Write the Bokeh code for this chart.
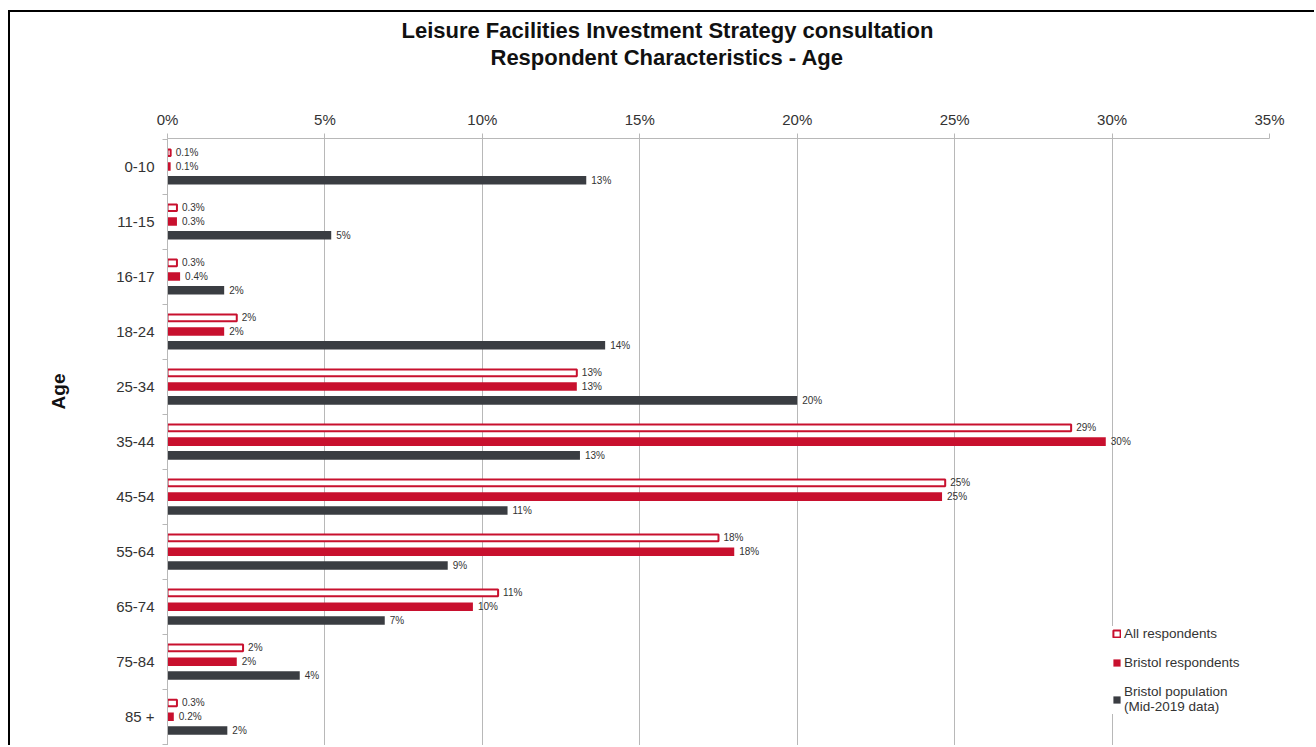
from bokeh.plotting import figure
from bokeh.models import (ColumnDataSource, Range1d, FixedTicker, PrintfTickFormatter,
                          Legend, LegendItem, Title)
from bokeh.embed import file_html
from bokeh.resources import INLINE
from bokeh.core.properties import value

# ---------------- data ----------------
categories = ["0-10", "11-15", "16-17", "18-24", "25-34", "35-44",
              "45-54", "55-64", "65-74", "75-84", "85 +"]
all_respondents = [0.1, 0.3, 0.3, 2.2, 13.0, 28.7, 24.7, 17.5, 10.5, 2.4, 0.3]
bristol_respondents = [0.1, 0.3, 0.4, 1.8, 13.0, 29.8, 24.6, 18.0, 9.7, 2.2, 0.2]
bristol_population = [13.3, 5.2, 1.8, 13.9, 20.0, 13.1, 10.8, 8.9, 6.9, 4.2, 1.9]
all_labels = ["0.1%", "0.3%", "0.3%", "2%", "13%", "29%", "25%", "18%", "11%", "2%", "0.3%"]
bristol_labels = ["0.1%", "0.3%", "0.4%", "2%", "13%", "30%", "25%", "18%", "10%", "2%", "0.2%"]
population_labels = ["13%", "5%", "2%", "14%", "20%", "13%", "11%", "9%", "7%", "4%", "2%"]
x_ticks = [0, 5, 10, 15, 20, 25, 30, 35]
series_names = ["All respondents", "Bristol respondents", "Bristol population\n(Mid-2019 data)"]
title_line1 = "Leisure Facilities Investment Strategy consultation"
title_line2 = "Respondent Characteristics - Age"
y_title = "Age"

# ---------------- style ----------------
FONT = "Liberation Sans"
RED = "#c8102e"
DARK = "#3a3d42"
GRID = "#b8b8b8"
TXT = "#333333"

n = len(categories)
idx = list(range(n))
off = 0.25

src = ColumnDataSource(dict(
    y_all=[i - off for i in idx],
    y_bri=idx,
    y_pop=[i + off for i in idx],
    all=all_respondents, bri=bristol_respondents, pop=bristol_population,
    all_lab=all_labels, bri_lab=bristol_labels, pop_lab=population_labels,
))

p = figure(width=1306, height=735, output_backend="svg", toolbar_location=None,
           x_range=Range1d(0, 35), y_range=Range1d(10.56, -0.51),
           x_axis_location="above",
           min_border_left=157, min_border_right=47, min_border_top=126, min_border_bottom=0)
p.styles = {"border-left": "2px solid #000", "border-top": "2px solid #000",
            "margin-left": "8px", "margin-top": "10px"}
p.title.text = ""
p.outline_line_color = None
p.background_fill_color = "white"
p.border_fill_color = "white"

r_all = p.hbar(y="y_all", right="all", left=0, height=0.12, fill_color="white",
               line_color=RED, line_width=2, source=src)
r_bri = p.hbar(y="y_bri", right="bri", left=0, height=0.155, fill_color=RED,
               line_color=None, source=src)
r_pop = p.hbar(y="y_pop", right="pop", left=0, height=0.155, fill_color=DARK,
               line_color=None, source=src)

for ycol, xcol, lcol in [("y_all", "all", "all_lab"), ("y_bri", "bri", "bri_lab"),
                         ("y_pop", "pop", "pop_lab")]:
    p.text(x=xcol, y=ycol, text=lcol, x_offset=5, text_baseline="middle",
           text_align="left", text_font_size="10px", text_color=TXT,
           text_font=value(FONT), source=src)

# x axis (top)
xa = p.xaxis[0]
xa.ticker = FixedTicker(ticks=x_ticks)
xa.formatter = PrintfTickFormatter(format="%d%%")
xa.axis_line_color = GRID
xa.major_tick_line_color = GRID
xa.major_tick_out = 5
xa.major_tick_in = 0
xa.minor_tick_line_color = None
xa.major_label_standoff = 6
xa.major_label_text_font_size = "15px"
xa.major_label_text_color = TXT
xa.major_label_text_font = FONT
xa.axis_label = " "
xa.axis_label_text_font_size = "10px"
xa.axis_label_standoff = 24

p.xgrid.ticker = FixedTicker(ticks=x_ticks)
p.xgrid.grid_line_color = GRID
p.ygrid.grid_line_color = None

# y axis
ya = p.yaxis[0]
ya.ticker = FixedTicker(ticks=idx, minor_ticks=[i - 0.5 for i in range(n + 1)])
ya.major_label_overrides = {i: c for i, c in zip(idx, categories)}
ya.major_tick_line_color = None
ya.major_tick_out = 0
ya.major_tick_in = 0
ya.minor_tick_line_color = GRID
ya.minor_tick_out = 5
ya.minor_tick_in = 0
ya.axis_line_color = GRID
ya.major_label_standoff = 8
ya.major_label_text_font_size = "15px"
ya.major_label_text_color = TXT
ya.major_label_text_font = FONT
ya.axis_label = " "
ya.axis_label_text_font_size = "10px"
ya.axis_label_standoff = 31

# titles (line 2 nearer the plot, line 1 outermost)
p.add_layout(Title(text=title_line2, align="left", offset=323, standoff=0,
                   text_font_size="22px", text_font_style="bold", text_font=FONT,
                   text_color="#111111"), "above")
p.add_layout(Title(text=title_line1, align="left", offset=234, standoff=0,
                   text_font_size="22px", text_font_style="bold", text_font=FONT,
                   text_color="#111111"), "above")
p.add_layout(Title(text=y_title, align="right", offset=235, standoff=0,
                   text_font_size="19px", text_font_style="bold", text_font=FONT,
                   text_color="#111111"), "left")

legend = Legend(items=[LegendItem(label=series_names[0], renderers=[r_all]),
                       LegendItem(label=series_names[1], renderers=[r_bri]),
                       LegendItem(label=series_names[2], renderers=[r_pop])],
                location=(945, 33), orientation="vertical",
                glyph_width=9, glyph_height=9, label_standoff=3, label_height=15,
                spacing=14, padding=3, margin=0,
                label_text_font_size="13.5px", label_text_font=FONT, label_text_color=TXT,
                background_fill_color="white", background_fill_alpha=1.0,
                border_line_color=None)
p.add_layout(legend, "center")

open("out.html", "w").write(file_html(p, INLINE))
